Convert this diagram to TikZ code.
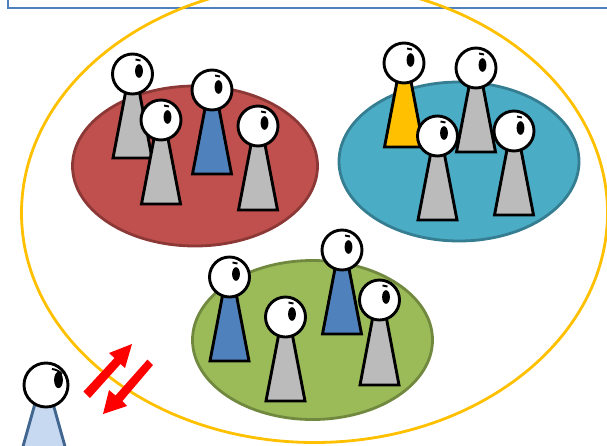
\documentclass[tikz,border=0pt]{standalone}
\definecolor{framec}{HTML}{4F81BD}
\definecolor{ringc}{HTML}{FFC000}
\definecolor{redf}{HTML}{C0504D}
\definecolor{rede}{HTML}{8C3836}
\definecolor{bluef}{HTML}{4BACC6}
\definecolor{bluee}{HTML}{357D91}
\definecolor{greenf}{HTML}{9BBB59}
\definecolor{greene}{HTML}{71893F}
\definecolor{greyf}{HTML}{BBBBBB}
\definecolor{bodyblue}{HTML}{4F81BD}
\definecolor{paleblue}{HTML}{C6D9F1}
\definecolor{paleedge}{HTML}{41668F}
\tikzset{
  blob/.style={line width=2.8pt},
  body/.style={line width=2.9pt,line join=miter,draw=black},
  head/.style={line width=2.9pt,draw=black,fill=white},
  pupil/.style={fill=black,draw=none},
  brow/.style={line width=1.9pt,draw=black},
}
% #1 head x, #2 head y, #3 base y, #4 fill
\newcommand{\person}[4]{%
  \draw[body,fill=#4] (#1-6.5,#2+16) -- (#1+6.5,#2+16) -- (#1+19.5,#3) -- (#1-19.5,#3) -- cycle;
  \draw[head] (#1,#2) circle[radius=20];
  \fill[pupil] (#1+6.5,#2-3) ellipse[x radius=3.9,y radius=6.8];
  \draw[brow] (#1+3,#2-14.5) -- (#1+8,#2-13.5);
}
\begin{document}
\begin{tikzpicture}[x=1pt,y=-1pt]
\useasboundingbox (0,0) rectangle (607,445);
\begin{scope}
\clip (0,0) rectangle (607,445);
\draw[framec,line width=2.8pt] (8,-20) rectangle (640,8);
\draw[ringc,line width=2.8pt] (314.5,213) ellipse[x radius=293,y radius=229.5];
\draw[blob,fill=redf,draw=rede] (195,166) ellipse[x radius=122.5,y radius=80];
\draw[blob,fill=bluef,draw=bluee] (459,161.5) ellipse[x radius=120,y radius=79.5];
\draw[blob,fill=greenf,draw=greene] (312.5,340) ellipse[x radius=120,y radius=79.5];
\person{132.5}{74}{158}{greyf}
\person{212}{90}{174}{bodyblue}
\person{161}{120}{204}{greyf}
\person{258}{126}{210}{greyf}
\person{404}{63}{147}{ringc}
\person{476}{68}{152}{greyf}
\person{437.5}{136}{220}{greyf}
\person{514}{131}{215}{greyf}
\person{342}{250}{334}{bodyblue}
\person{229.5}{277}{361}{bodyblue}
\person{379.5}{300}{385}{greyf}
\person{285.5}{317}{401}{greyf}
% outside figure
\draw[line width=2.9pt,draw=paleedge,fill=paleblue] (36,400) -- (52,400) -- (66,450) -- (22,450) -- cycle;
\draw[head] (46,385) circle[radius=22];
\fill[pupil] (58.5,380) ellipse[x radius=4.4,y radius=8.2];
\draw[brow] (52,369) .. controls (56,369.5) and (59,371) .. (62,374);
% double arrow
\fill[red] (83.5,391.5) -- (114.5,358) -- (109,353) -- (132,344) -- (125,368) -- (120.5,364) -- (90,398) -- cycle;
\fill[red] (147.5,359.5) -- (153,365) -- (122.5,401) -- (127,406) -- (103,414) -- (109,390) -- (115.5,395.5) -- cycle;
\end{scope}
\end{tikzpicture}
\end{document}
